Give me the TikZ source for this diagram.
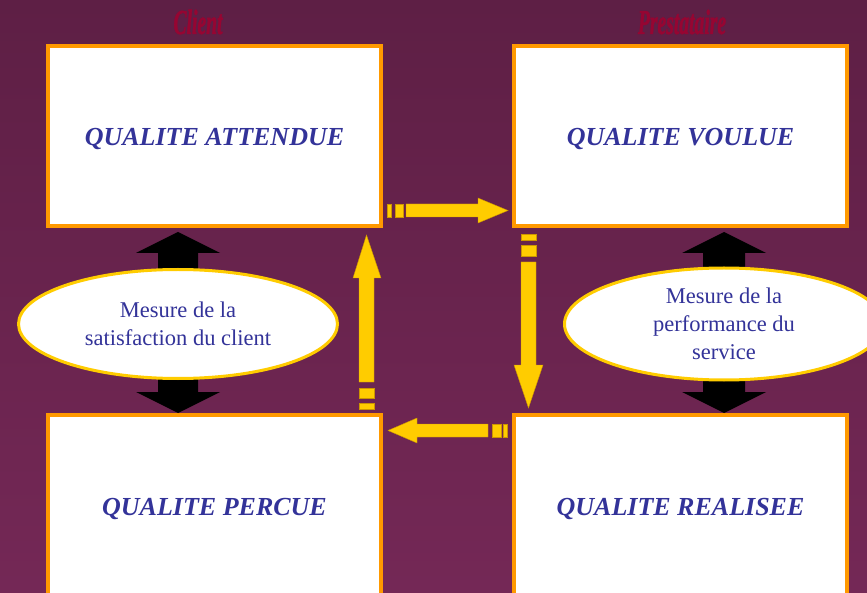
\documentclass[tikz,border=0pt]{standalone}
\usepackage{fontspec}
\setmainfont{Liberation Serif}
\newfontfamily\titlefont[BoldItalicFeatures={FakeBold=1.5}]{Liberation Serif}
\usetikzlibrary{shapes.geometric}
\definecolor{bgtop}{RGB}{94,31,69}
\definecolor{bgbot}{RGB}{116,40,86}
\definecolor{boxorange}{RGB}{255,153,0}
\definecolor{arrowyellow}{RGB}{255,204,0}
\definecolor{arrowedge}{RGB}{204,150,0}
\definecolor{txtblue}{RGB}{51,51,153}
\definecolor{titlered}{RGB}{150,5,50}
\newcommand{\condensedtitle}[1]{\scalebox{0.56}[1]{\titlefont\fontsize{35}{40}\selectfont\bfseries\itshape #1}}
\tikzset{
  qbox/.style={draw=boxorange, line width=4pt, fill=white, minimum width=333pt, minimum height=180pt, inner sep=0pt,
    text height=20pt, text depth=0pt,
    font=\fontsize{26}{30}\selectfont\bfseries\itshape, text=txtblue},
  mesure/.style={ellipse, draw=arrowyellow, line width=3pt, fill=white, minimum width=319pt, minimum height=109pt, inner sep=0pt,
    font=\fontsize{22.5}{27.5}\selectfont, text=txtblue, align=center},
  flowarrow/.style={fill=arrowyellow, draw=arrowedge, line width=0.4pt},
  measarrow/.style={fill=black},
  sidetitle/.style={text=titlered, inner sep=0pt}
}
\begin{document}
\begin{tikzpicture}[x=1pt,y=-1pt]
\useasboundingbox (0,0) rectangle (867,593);
\clip (0,0) rectangle (867,593);
\shade[top color=bgtop, bottom color=bgbot] (0,0) rectangle (867,593);

% titles
\node[sidetitle] (tclient) at (198,22) {\condensedtitle{Client}};
\node[sidetitle] (tprest) at (682,22) {\condensedtitle{Prestataire}};

% boxes
\node[qbox] (att) at (214.5,136) {QUALITE ATTENDUE};
\node[qbox] (vou) at (680.5,136) {QUALITE VOULUE};
\node[qbox] (per) at (214.5,505) {QUALITE PERCUE};
\node[qbox] (rea) at (680.5,505) {QUALITE REALISEE};

% black double arrows (measurement)
\fill[measarrow] (178,232) -- (220,253) -- (198,253) -- (198,392) -- (220,392) -- (178,413)
  -- (136,392) -- (158,392) -- (158,253) -- (136,253) -- cycle;
\fill[measarrow] (724,232) -- (766,253) -- (745,253) -- (745,392) -- (766,392) -- (724,413)
  -- (682,392) -- (703,392) -- (703,253) -- (682,253) -- cycle;

% ellipses
\node[mesure] (sat) at (178,324) {Mesure de la\\satisfaction du client};
\node[mesure, minimum height=112pt, font=\fontsize{22.5}{28}\selectfont] (perf) at (724,324) {Mesure de la\\performance du\\service};

% attendue -> voulue
\draw[flowarrow] (387,204) rectangle (391,217);
\draw[flowarrow] (395,204) rectangle (403,217);
\draw[flowarrow] (406,204) -- (478,204) -- (478,198) -- (508,210.5) -- (478,223) -- (478,217) -- (406,217) -- cycle;

% voulue -> realisee
\draw[flowarrow] (521,234) rectangle (536,240);
\draw[flowarrow] (521,245) rectangle (536,256);
\draw[flowarrow] (521,262) -- (521,365) -- (514,365) -- (528.5,408) -- (543,365) -- (536,365) -- (536,262) -- cycle;

% realisee -> percue
\draw[flowarrow] (503,424) rectangle (507,437);
\draw[flowarrow] (492,424) rectangle (501,437);
\draw[flowarrow] (488,424) -- (417,424) -- (417,418) -- (388,430.5) -- (417,443) -- (417,437) -- (488,437) -- cycle;

% percue -> attendue
\draw[flowarrow] (359,403) rectangle (374,409);
\draw[flowarrow] (359,388) rectangle (374,398);
\draw[flowarrow] (359,382) -- (359,278) -- (353,278) -- (366.5,235) -- (381,278) -- (374,278) -- (374,382) -- cycle;
\end{tikzpicture}
\end{document}
